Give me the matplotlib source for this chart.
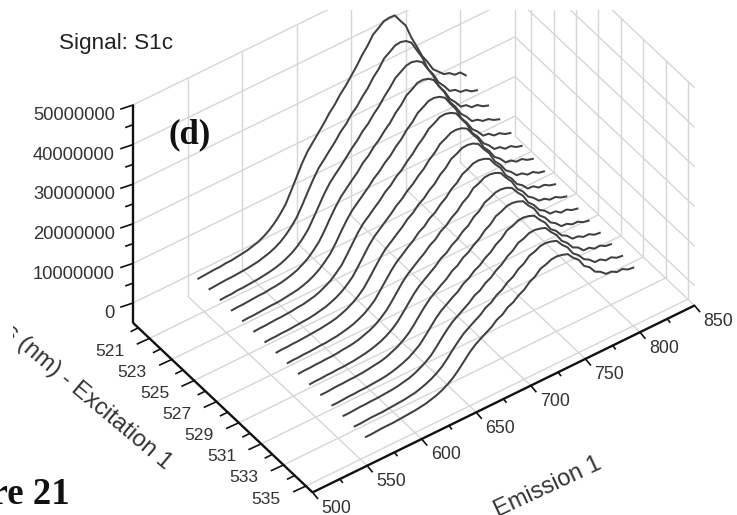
import numpy as np
import matplotlib
matplotlib.use('Agg')
import matplotlib.pyplot as plt
from matplotlib.patches import Rectangle

# emission wavelengths of the samples (nm)
emission = np.arange(555, 801, 5)
excitation = np.arange(520, 536)

# signal in millions, one row per excitation wavelength
signal = [
    [.0,.1,.2,.3,.3,.5,.5,.7,.9,1.1,1.5,1.9,2.6,3.5,4.7,6.2,8.0,10.7,13.5,16.3,18.6,20.3,22.0,23.7,25.6,27.1,29.0,30.5,32.3,34.1,36.2,37.9,40.0,41.0,42.1,42.3,42.2,40.2,38.3,34.7,31.7,28.6,26.4,23.9,22.6,21.3,20.9,19.8,19.7,18.3],
    [0,.1,.2,.3,.3,.4,.5,.6,.8,1.0,1.4,1.8,2.4,3.2,4.3,5.7,7.4,9.8,12.4,14.9,17.1,18.6,20.2,21.7,23.5,24.8,26.6,27.9,29.7,31.2,33.2,34.7,36.7,37.6,38.6,38.8,38.4,37.3,34.7,32.2,28.7,26.6,23.9,22.3,20.4,20.0,18.8,18.6,17.6,17.2],
    [0,.1,.1,.3,.3,.4,.5,.6,.8,1.0,1.3,1.7,2.3,3.0,4.0,5.3,6.9,9.2,11.6,14.0,16.0,17.5,18.9,20.4,22.0,23.3,25.0,26.2,27.9,29.3,31.1,32.6,34.4,35.3,36.2,36.4,36.0,35.0,32.6,30.2,26.9,25.0,22.4,20.9,19.1,18.8,17.6,17.5,16.5,16.0],
    [0,.1,.1,.2,.3,.4,.4,.6,.7,.9,1.2,1.6,2.1,2.9,3.8,5.1,6.6,8.7,11.1,13.3,15.2,16.6,18.0,19.3,21.0,22.1,23.7,24.9,26.5,27.8,29.6,30.9,32.7,33.5,34.5,34.6,34.2,33.2,30.9,28.7,25.6,23.7,21.3,19.9,18.1,17.8,16.8,16.6,15.7,15.2],
    [0,.1,.1,.2,.3,.4,.4,.5,.7,.9,1.1,1.5,2.0,2.7,3.6,4.8,6.2,8.2,10.5,12.6,14.4,15.7,17.0,18.3,19.8,20.9,22.4,23.5,25.1,26.3,28.0,29.2,30.9,31.7,32.6,32.7,32.3,31.4,29.2,27.2,24.2,22.4,20.1,18.8,17.1,16.9,15.8,15.7,14.8,14.4],
    [0,.1,.1,.2,.3,.3,.4,.5,.7,.8,1.1,1.4,1.9,2.6,3.4,4.6,5.9,7.9,10.0,12.1,13.8,15.0,16.3,17.5,19.0,20.0,21.5,22.5,24.0,25.2,26.8,28.0,29.6,30.3,31.2,31.3,30.9,30.1,28.0,26.0,23.1,21.5,19.2,18.0,16.4,16.2,15.1,15.1,14.2,13.8],
    [0,.1,.1,.2,.2,.3,.4,.5,.6,.8,1.1,1.4,1.9,2.5,3.3,4.4,5.7,7.6,9.6,11.6,13.2,14.4,15.6,16.8,18.2,19.2,20.6,21.6,23.0,24.1,25.7,26.8,28.4,29.1,29.9,30.0,29.7,28.9,26.8,25.0,22.2,20.6,18.4,17.3,15.7,15.5,14.5,14.5,13.6,13.2],
    [0,.1,.1,.2,.2,.3,.4,.5,.6,.8,1.0,1.3,1.8,2.4,3.2,4.2,5.5,7.3,9.2,11.1,12.7,13.8,15.0,16.1,17.5,18.4,19.8,20.7,22.1,23.1,24.7,25.7,27.3,27.9,28.7,28.8,28.5,27.7,25.7,24.0,21.3,19.8,17.7,16.6,15.1,14.9,13.9,13.9,13.0,12.7],
    [0,.1,.1,.2,.2,.3,.4,.4,.6,.7,1.0,1.3,1.7,2.3,3.0,4.0,5.2,7.0,8.8,10.6,12.1,13.2,14.4,15.4,16.8,17.6,19.0,19.8,21.2,22.2,23.7,24.6,26.1,26.7,27.5,27.6,27.3,26.6,24.6,23.0,20.4,19.0,16.9,15.9,14.4,14.3,13.3,13.3,12.5,12.1],
    [0,.1,.1,.2,.2,.3,.3,.4,.6,.7,.9,1.2,1.7,2.2,2.9,3.9,5.1,6.7,8.5,10.3,11.7,12.8,13.9,14.9,16.2,17.0,18.4,19.2,20.5,21.4,22.9,23.8,25.3,25.8,26.6,26.7,26.4,25.7,23.8,22.2,19.7,18.4,16.4,15.4,14.0,13.8,12.9,12.9,12.1,11.7],
    [0,.1,.1,.2,.2,.3,.3,.4,.5,.7,.9,1.2,1.6,2.1,2.8,3.7,4.9,6.5,8.2,9.9,11.3,12.3,13.3,14.3,15.6,16.3,17.6,18.4,19.7,20.5,22.0,22.8,24.3,24.8,25.5,25.6,25.3,24.6,22.8,21.3,18.9,17.6,15.7,14.8,13.4,13.3,12.3,12.4,11.6,11.3],
    [0,0,.1,.2,.2,.3,.3,.4,.5,.7,.9,1.1,1.5,2.1,2.7,3.6,4.7,6.2,7.9,9.5,10.9,11.9,12.9,13.8,15.1,15.8,17.1,17.8,19.0,19.9,21.3,22.1,23.5,24.0,24.7,24.8,24.5,23.9,22.1,20.7,18.3,17.1,15.2,14.3,12.9,12.8,12.0,12.0,11.2,10.9],
    [0,0,.1,.2,.2,.3,.3,.4,.5,.6,.8,1.1,1.5,2.0,2.6,3.5,4.5,6.0,7.6,9.2,10.5,11.4,12.4,13.2,14.5,15.2,16.4,17.1,18.3,19.1,20.4,21.2,22.6,23.0,23.7,23.8,23.5,22.9,21.2,19.8,17.5,16.4,14.6,13.8,12.4,12.3,11.5,11.5,10.7,10.5],
    [0,0,.1,.2,.2,.3,.3,.4,.5,.6,.8,1.1,1.4,1.9,2.6,3.4,4.4,5.9,7.5,9.0,10.3,11.2,12.1,13.0,14.2,14.8,16.0,16.7,17.9,18.7,20.0,20.8,22.1,22.5,23.2,23.3,23.0,22.5,20.8,19.4,17.2,16.0,14.2,13.5,12.1,12.1,11.2,11.3,10.5,10.3],
    [0,0,.1,.2,.2,.2,.3,.4,.5,.6,.8,1.0,1.4,1.9,2.5,3.3,4.3,5.7,7.3,8.7,10.0,10.9,11.8,12.6,13.8,14.4,15.6,16.3,17.5,18.2,19.5,20.2,21.5,21.9,22.6,22.7,22.4,21.9,20.2,18.9,16.7,15.6,13.9,13.1,11.8,11.8,10.9,11.0,10.2,10.0],
    [0,0,.1,.2,.2,.2,.3,.4,.5,.6,.8,1.0,1.4,1.8,2.4,3.2,4.2,5.5,7.0,8.5,9.7,10.6,11.4,12.2,13.4,14.0,15.2,15.8,16.9,17.6,18.9,19.6,20.9,21.3,21.9,22.0,21.7,21.2,19.6,18.4,16.2,15.2,13.4,12.7,11.5,11.4,10.6,10.7,9.9,9.7],
]

signal_ticks = [0, 10000000, 20000000, 30000000, 40000000, 50000000]
signal_minor = [5000000, 15000000, 25000000, 35000000, 45000000]
ex_ticks = [521, 523, 525, 527, 529, 531, 533, 535]
ex_minor = [520, 522, 524, 526, 528, 530, 532, 534]
em_ticks = [500, 550, 600, 650, 700, 750, 800, 850]
em_minor = [525, 575, 625, 675, 725, 775, 825]

EM_MIN, EM_MAX = 500, 850
EX_MIN, EX_MAX = 519.525, 535.6
SIG_MIN, SIG_MAX = -5000000, 50000000


def project(em, ex, sig):
    # oblique view of the box, result is in image pixels
    em, ex, sig = np.asarray(em, float), np.asarray(ex, float), np.asarray(sig, float)
    x = 133 + (em - EM_MIN) * 1.0914 + (ex - EX_MIN) * 11.17
    y = 303 - (em - EM_MIN) * 0.534 + (ex - EX_MIN) * 10.55 - sig / 1e7 * 39.6
    return x, y


fig = plt.figure(figsize=(7.37, 5.15), dpi=100)
ax = fig.add_axes([0, 0, 1, 1])
ax.set_xlim(0, 737)
ax.set_ylim(515, 0)
ax.axis('off')
plt.rcParams['font.family'] = ['Liberation Sans', 'DejaVu Sans']

top_clip = Rectangle((0, 10), 737, 505, transform=ax.transData)
GRID = '#d6d6d6'
AXIS = '#111111'
TEXT = '#333333'


def seg(p0, p1, color=GRID, lw=1.0, clip=True, z=1):
    x, y = project(*np.array([p0, p1]).T)
    line, = ax.plot(x, y, color=color, lw=lw, solid_capstyle='butt', zorder=z)
    if clip:
        line.set_clip_path(top_clip)


# walls and floor
for s in signal_ticks:
    seg((EM_MIN, EX_MIN, s), (EM_MAX, EX_MIN, s))
    seg((EM_MAX, EX_MIN, s), (EM_MAX, EX_MAX, s))
for em in em_ticks[1:]:
    seg((em, EX_MIN, SIG_MIN), (em, EX_MIN, SIG_MAX))
    seg((em, EX_MIN, SIG_MIN), (em, EX_MAX, SIG_MIN))
for ex in ex_ticks:
    seg((EM_MIN, ex, SIG_MIN), (EM_MAX, ex, SIG_MIN))
    seg((EM_MAX, ex, SIG_MIN), (EM_MAX, ex, SIG_MAX))

# curves, back row first
for ex, row in zip(excitation, signal):
    x, y = project(emission, ex, np.array(row) * 1e6)
    ax.plot(x, y, color='#404040', lw=1.45, zorder=3)

# axis lines
seg((EM_MIN, EX_MIN, SIG_MIN), (EM_MIN, EX_MIN, SIG_MAX), AXIS, 1.7, False, 4)
seg((EM_MIN, EX_MIN, SIG_MIN), (EM_MIN, EX_MAX, SIG_MIN), AXIS, 1.7, False, 4)
seg((EM_MIN, EX_MAX, SIG_MIN), (EM_MAX, EX_MAX, SIG_MIN), AXIS, 1.7, False, 4)


def tick(x, y, dx, dy):
    ax.plot([x, x + dx], [y, y + dy], color=AXIS, lw=1.2, zorder=4, clip_on=False)


# signal axis
for s in signal_ticks:
    x, y = project(EM_MIN, EX_MIN, s)
    tick(x, y, -12, 4)
    ax.text(115, y + 10.7, str(s), ha='right', va='center', fontsize=13.2, color=TEXT)
for s in signal_minor:
    x, y = project(EM_MIN, EX_MIN, s)
    tick(x, y, -7, 2.5)

# excitation axis
for ex in ex_ticks:
    x, y = project(EM_MIN, ex, SIG_MIN)
    tick(x, y, -12, 5.5)
    ax.text(x - 39.5, y + 13, str(ex), ha='center', va='center', fontsize=12.6, color=TEXT)
for ex in ex_minor:
    x, y = project(EM_MIN, ex, SIG_MIN)
    tick(x, y, -7, 3.5)

# emission axis
for em in em_ticks:
    x, y = project(em, EX_MAX, SIG_MIN)
    tick(x, y, 5, 6)
    ax.text(x + 24, y + 16, str(em), ha='center', va='center', fontsize=12.9,
            color=TEXT, clip_on=False)
for em in em_minor:
    x, y = project(em, EX_MAX, SIG_MIN)
    tick(x, y, 2.5, 3.2)

# titles
ax.text(59, 43, 'Signal: S1c', ha='left', va='center', fontsize=16.2, color='#222222')
ex_title = ax.text(169, 465, 'Wavelengths (nm) - Excitation 1', ha='right', va='center',
                   rotation=-40, rotation_mode='anchor', fontsize=17.2, color=TEXT,
                   clip_on=True)
ex_title.set_clip_path(Rectangle((13, 0), 724, 515, transform=ax.transData))
ax.text(603, 468, 'Emission 1', ha='right', va='baseline', rotation=25,
        rotation_mode='anchor', fontsize=17, color=TEXT)

# panel marks from the paper
ax.text(190, 135, '(d)', ha='center', va='center', fontsize=25, fontweight='bold',
        family='Liberation Serif', color='#111111', zorder=5)
ax.text(70, 503.5, 'Figure 21', ha='right', va='baseline', fontsize=26.5, fontweight='bold',
        family='Liberation Serif', color='#111111')

fig.savefig('out.png', dpi=100)
